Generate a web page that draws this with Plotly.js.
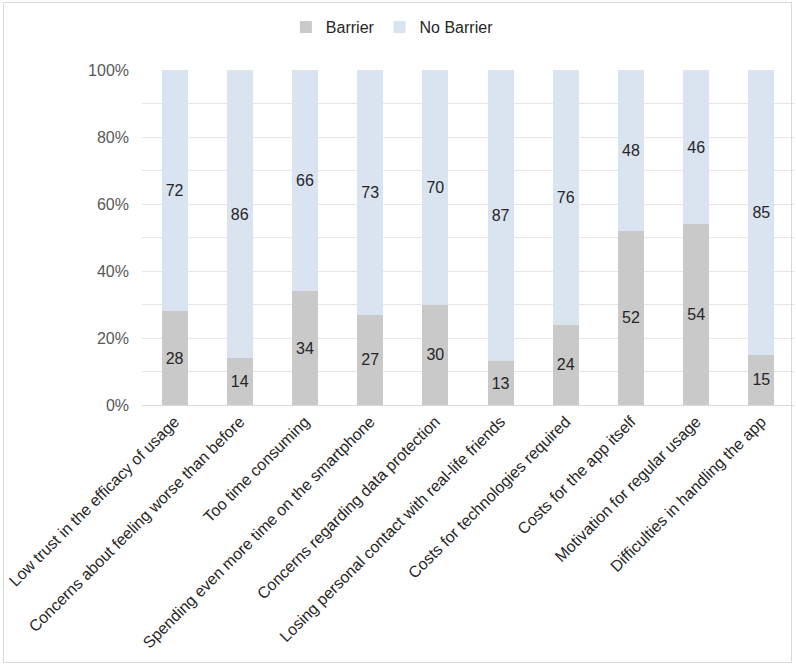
<!DOCTYPE html>
<html>
<head>
<meta charset="utf-8">
<script src="https://cdn.plot.ly/plotly-3.0.1.min.js"></script>
<style>
html,body{margin:0;padding:0;background:#fff;}
#wrap{position:relative;width:796px;height:667px;}
#chart{width:796px;height:667px;}
#frame{position:absolute;left:3px;top:2px;width:789px;height:661px;border:1px solid #d9d9d9;pointer-events:none;box-sizing:border-box;}
</style>
</head>
<body>
<div id="wrap"><div id="chart"></div><div id="frame"></div></div>
<script>
const categories = [
  "Low trust in the efficacy of usage",
  "Concerns about feeling worse than before",
  "Too time consuming",
  "Spending even more time on the smartphone",
  "Concerns regarding data protection",
  "Losing personal contact with real-life friends",
  "Costs for technologies required",
  "Costs for the app itself",
  "Motivation for regular usage",
  "Difficulties in handling the app"
];
const barrier = [28, 14, 34, 27, 30, 13, 24, 52, 54, 15];
const noBarrier = [72, 86, 66, 73, 70, 87, 76, 48, 46, 85];
const yTicks = [0, 20, 40, 60, 80, 100];

const fontFam = "Liberation Sans, Arial, sans-serif";
const textFont = {family: fontFam, size: 16, color: "#262626"};

const traces = [
  {
    type: "bar", name: "Barrier", x: categories, y: barrier,
    marker: {color: "#c9c9c9"},
    text: barrier.map(String), textposition: "inside", insidetextanchor: "middle",
    textfont: textFont, constraintext: "none", hoverinfo: "none"
  },
  {
    type: "bar", name: "No Barrier", x: categories, y: noBarrier,
    marker: {color: "#dae3f0"},
    text: noBarrier.map(String), textposition: "inside", insidetextanchor: "middle",
    textfont: textFont, constraintext: "none", hoverinfo: "none"
  }
];

const layout = {
  width: 796, height: 667,
  margin: {l: 142, r: 2, t: 70, b: 262},
  paper_bgcolor: "#fff", plot_bgcolor: "#fff",
  barmode: "stack", bargap: 0.6,
  showlegend: true,
  legend: {
    orientation: "h", x: 0.384, xanchor: "center", y: 1.128, yanchor: "middle",
    font: {family: fontFam, size: 16, color: "#262626"}, traceorder: "normal",
    itemwidth: 30
  },
  xaxis: {
    type: "category", tickangle: -45, ticks: "", showgrid: false,
    showline: true, linecolor: "#d9d9d9", linewidth: 1,
    tickfont: {family: fontFam, size: 16, color: "#262626"}
  },
  yaxis: {
    range: [0, 100], tickvals: yTicks, ticktext: yTicks.map(v => v + "%"),
    showgrid: true, gridcolor: "#e6e6e6", gridwidth: 1,
    minor: {dtick: 10, showgrid: true, gridcolor: "#e6e6e6", gridwidth: 1, ticks: ""},
    zeroline: false, showline: false, ticks: "", ticklabelstandoff: 12,
    tickfont: {family: fontFam, size: 16, color: "#595959"}
  }
};

Plotly.newPlot("chart", traces, layout, {displayModeBar: false, staticPlot: true});
</script>
</body>
</html>
